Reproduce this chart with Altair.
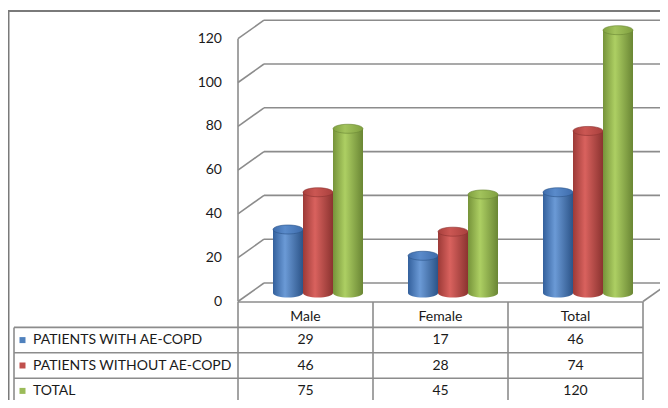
import altair as alt
import pandas as pd

# ---------------- data ----------------
categories = ["Male", "Female", "Total"]
series_names = ["PATIENTS WITH AE-COPD", "PATIENTS WITHOUT AE-COPD", "TOTAL"]
with_ae = [29, 17, 46]
without_ae = [46, 28, 74]
totals = [75, 45, 120]
tick_values = [0, 20, 40, 60, 80, 100, 120]

series_values = [with_ae, without_ae, totals]
legend_colors = ["#4f81bd", "#c0504d", "#9bbb59"]
body_stops = [
    ("#33609c", "#6b9ad6", "#2c5488"),
    ("#9c3a37", "#d9625e", "#8b3330"),
    ("#76933a", "#adcf63", "#6a8634"),
]
cap_stops = [
    ("#3e6cab", "#5a8bcb", "#3e6cab"),
    ("#a8403d", "#cb5753", "#a8403d"),
    ("#80a040", "#a2c35c", "#80a040"),
]

# ---------------- layout ----------------
W, H = 652, 392
COL_PX = 135.0
X0_PX = 297.5
XDOM = [(0 - X0_PX) / COL_PX, (W - X0_PX) / COL_PX]
PX_PER_UNIT = 2.19
ZERO_PX = 285.0
YDOM = [(ZERO_PX - H) / PX_PER_UNIT, ZERO_PX / PX_PER_UNIT]
FRONT_OFF = -8.5 / PX_PER_UNIT
BACK_OFF = 10.0 / PX_PER_UNIT
DEPTH_X = 26.0 / COL_PX
FRONT_X = -0.5
BACK_X = FRONT_X + DEPTH_X
RIGHT_X = 2.5
GROUP_SHIFT = 12.5 / COL_PX
BAR_W = 30.0 / COL_PX

ROW_TOP_PX = 294.0
ROW_PX = 25.4
RDOM = [-ROW_TOP_PX / ROW_PX, (H - ROW_TOP_PX) / ROW_PX]


def px_x(p):
    return (p - X0_PX) / COL_PX


def px_y(p):
    return (ZERO_PX - p) / PX_PER_UNIT


LEG_LEFT = px_x(6)
LEG_SQ_X = px_x(14.5)
LEG_TEXT_X = px_x(25)
TICK_LABEL_X = px_x(214)

FONT = "Lato"
FS = 14
GRID_COLOR = "#8c8c8c"

xs = alt.Scale(domain=XDOM, nice=False, zero=False)
ys = alt.Scale(domain=YDOM, nice=False, zero=False)
rs = alt.Scale(domain=RDOM, nice=False, zero=False, reverse=True)


def X(f):
    return alt.X(f, type="quantitative", scale=xs, axis=None)


def Y(f):
    return alt.Y(f, type="quantitative", scale=ys, axis=None)


def R(f):
    return alt.Y(f, type="quantitative", scale=rs, axis=None)


def grad(stops):
    return alt.LinearGradient(
        gradient="linear",
        stops=[
            alt.GradientStop(color=stops[0], offset=0),
            alt.GradientStop(color=stops[1], offset=0.4),
            alt.GradientStop(color=stops[2], offset=1),
        ],
        x1=0, x2=1, y1=0, y2=0,
    )


ELLIPSE = "M -1 0 A 1 0.3 0 1 0 1 0 A 1 0.3 0 1 0 -1 0 Z"

# ---------------- plot (3D walls, gridlines, bars) ----------------
seg = []
for t in tick_values:
    seg.append(dict(xa=FRONT_X, ya=t + FRONT_OFF, xb=BACK_X, yb=t + BACK_OFF))
    seg.append(dict(xa=BACK_X, ya=t + BACK_OFF, xb=XDOM[1] + 0.2, yb=t + BACK_OFF))
seg.append(dict(xa=FRONT_X, ya=FRONT_OFF, xb=FRONT_X, yb=max(tick_values) + FRONT_OFF))
seg.append(dict(xa=RIGHT_X, ya=FRONT_OFF, xb=RIGHT_X + DEPTH_X, yb=BACK_OFF))
grid = alt.Chart(pd.DataFrame(seg)).mark_rule(color=GRID_COLOR, strokeWidth=1.6).encode(
    x=X("xa"), x2="xb", y=Y("ya"), y2="yb"
)

border = pd.DataFrame([
    dict(xa=px_x(0.75), ya=px_y(3), xb=px_x(0.75), yb=px_y(H + 5), w=1.5),
    dict(xa=px_x(0), ya=px_y(3), xb=px_x(W + 5), yb=px_y(3), w=2.2),
])
border_layer = alt.Chart(border).mark_rule(color="#7a7a7a").encode(
    x=X("xa"), x2="xb", y=Y("ya"), y2="yb",
    strokeWidth=alt.StrokeWidth("w:Q", scale=None, legend=None),
)

ticks_df = pd.DataFrame({"v": tick_values})
tick_labels = alt.Chart(ticks_df).transform_calculate(
    tx=str(TICK_LABEL_X), ty=f"datum.v + ({FRONT_OFF})", lab="''+datum.v"
).mark_text(align="right", baseline="middle", font=FONT, fontSize=FS, color="#1a1a1a").encode(
    x=X("tx"), y=Y("ty"), text="lab:N"
)

bar_layers = []
for s, vals in enumerate(series_values):
    df = pd.DataFrame({"i": range(len(categories)), "category": categories, "value": vals})
    base = alt.Chart(df).transform_calculate(
        xc=f"datum.i + {GROUP_SHIFT} + ({s - 1}) * {BAR_W}",
    ).transform_calculate(
        xl=f"datum.xc - {BAR_W / 2}", xr=f"datum.xc + {BAR_W / 2}", y0="0"
    )
    body = base.mark_bar(fill=grad(body_stops[s]), strokeWidth=0).encode(
        x=X("xl"), x2="xr", y=Y("y0"), y2="value"
    )
    bottom = base.mark_point(
        shape=ELLIPSE, size=900, filled=True, fill=grad(body_stops[s]), opacity=1, strokeWidth=0
    ).encode(x=X("xc"), y=Y("y0"))
    top = base.mark_point(
        shape=ELLIPSE, size=900, filled=True, fill=grad(cap_stops[s]), opacity=1,
        stroke=body_stops[s][2], strokeWidth=0.6,
    ).encode(x=X("xc"), y=Y("value"))
    bar_layers += [body, bottom, top]

plot = alt.layer(border_layer, grid, tick_labels, *bar_layers)

# ---------------- data table ----------------
tl = []
tl.append(dict(xa=FRONT_X, ra=0, xb=RIGHT_X, rb=0))
for k in [1, 2, 3, 4]:
    tl.append(dict(xa=LEG_LEFT, ra=k, xb=RIGHT_X, rb=k))
tl.append(dict(xa=LEG_LEFT, ra=1, xb=LEG_LEFT, rb=4.5))
for xv in [FRONT_X, 0.5, 1.5, RIGHT_X]:
    tl.append(dict(xa=xv, ra=0, xb=xv, rb=4.5))
table_lines = alt.Chart(pd.DataFrame(tl)).mark_rule(color=GRID_COLOR, strokeWidth=1.6).encode(
    x=X("xa"), x2="xb", y=R("ra"), y2="rb"
)

hdr = pd.DataFrame({"i": range(len(categories)), "category": categories})
header = alt.Chart(hdr).transform_calculate(r="0.6").mark_text(
    font=FONT, fontSize=FS, color="#1a1a1a", baseline="middle"
).encode(x=X("i"), y=R("r"), text="category:N")

cells = []
leg = []
for s, vals in enumerate(series_values):
    for i, v in enumerate(vals):
        cells.append(dict(i=i, r=s + 1.5, value=str(v)))
    leg.append(dict(name=series_names[s], color=legend_colors[s], r=s + 1.5))
cell_text = alt.Chart(pd.DataFrame(cells)).mark_text(
    font=FONT, fontSize=FS, color="#1a1a1a", baseline="middle"
).encode(x=X("i"), y=R("r"), text="value:N")

leg_df = pd.DataFrame(leg)
leg_sq = alt.Chart(leg_df).transform_calculate(lx=str(LEG_SQ_X)).mark_square(
    size=36, opacity=1, filled=True
).encode(
    x=X("lx"), y=R("r"), color=alt.Color("color:N", scale=None, legend=None)
)
leg_text = alt.Chart(leg_df).transform_calculate(lx=str(LEG_TEXT_X)).mark_text(
    font=FONT, fontSize=FS, color="#1a1a1a", align="left", baseline="middle"
).encode(x=X("lx"), y=R("r"), text="name:N")

table = alt.layer(table_lines, header, cell_text, leg_sq, leg_text)

chart = (
    alt.layer(plot, table)
    .resolve_scale(y="independent")
    .properties(width=W, height=H, autosize="none", padding=0, background="white")
    .configure_view(stroke=None)
)

chart.save("out.html", embed_options={"renderer": "svg", "actions": False})
